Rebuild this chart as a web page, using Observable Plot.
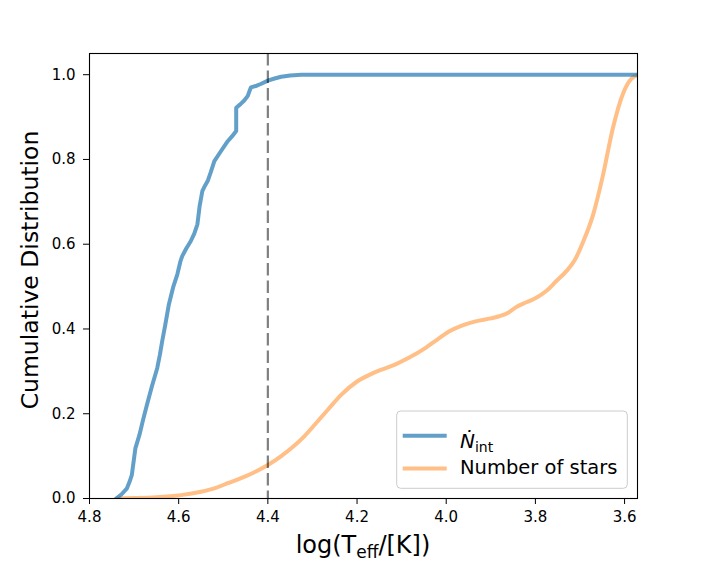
<!DOCTYPE html>
<html>
<head>
<meta charset="utf-8">
<script src="https://cdn.jsdelivr.net/npm/d3@7"></script>
<script src="https://cdn.jsdelivr.net/npm/@observablehq/plot@0.6"></script>
<style>
  html, body { margin: 0; padding: 0; background: #fff; }
</style>
</head>
<body>
<div id="chart"></div>
<script>
// Ṅ_int cumulative distribution vs log(Teff)
const nintT = [4.740, 4.728, 4.716, 4.710, 4.705, 4.697, 4.688, 4.680, 4.671, 4.660, 4.648, 4.642, 4.637, 4.630, 4.622, 4.612, 4.603, 4.596, 4.592, 4.583, 4.573, 4.565, 4.558, 4.553, 4.547, 4.541, 4.535, 4.528, 4.520, 4.505, 4.490, 4.480, 4.471, 4.471, 4.462, 4.453, 4.445, 4.441, 4.438, 4.425, 4.416, 4.400, 4.385, 4.370, 4.350, 4.325, 4.300, 3.560];
const nintCum = [0.000, 0.010, 0.024, 0.040, 0.056, 0.119, 0.150, 0.185, 0.222, 0.265, 0.308, 0.340, 0.371, 0.410, 0.458, 0.500, 0.529, 0.560, 0.572, 0.590, 0.607, 0.625, 0.647, 0.690, 0.725, 0.738, 0.749, 0.770, 0.796, 0.820, 0.843, 0.855, 0.867, 0.922, 0.930, 0.939, 0.950, 0.962, 0.970, 0.974, 0.978, 0.986, 0.991, 0.995, 0.998, 1.000, 1.000, 1.000];

// Number of stars cumulative distribution
const starsT = [4.740, 4.700, 4.650, 4.595, 4.550, 4.520, 4.490, 4.460, 4.430, 4.400, 4.370, 4.347, 4.320, 4.295, 4.265, 4.235, 4.200, 4.170, 4.145, 4.115, 4.084, 4.047, 4.020, 3.994, 3.965, 3.934, 3.900, 3.881, 3.860, 3.844, 3.820, 3.799, 3.775, 3.754, 3.730, 3.712, 3.694, 3.671, 3.649, 3.626, 3.604, 3.585, 3.567];
const starsCum = [0.000, 0.001, 0.003, 0.008, 0.016, 0.024, 0.036, 0.048, 0.062, 0.079, 0.100, 0.119, 0.145, 0.174, 0.210, 0.245, 0.276, 0.293, 0.304, 0.316, 0.332, 0.355, 0.375, 0.394, 0.408, 0.418, 0.425, 0.430, 0.439, 0.451, 0.463, 0.473, 0.490, 0.512, 0.537, 0.562, 0.603, 0.668, 0.760, 0.875, 0.954, 0.990, 1.000];

const xTicks = [4.8, 4.6, 4.4, 4.2, 4.0, 3.8, 3.6];
const yTicks = [0, 0.2, 0.4, 0.6, 0.8, 1.0];
const cutT = [4.4];

const nintData = nintT.map((t, i) => ({t, c: nintCum[i]}));
const starsData = starsT.map((t, i) => ({t, c: starsCum[i]}));

const plot = Plot.plot({
  width: 707,
  height: 571,
  marginLeft: 89,
  marginRight: 70,
  marginTop: 53,
  marginBottom: 73,
  style: {fontFamily: "DejaVu Sans", fontSize: "15px", background: "#fff", color: "#000"},
  x: {domain: [4.8, 3.571]},
  y: {domain: [0, 1.05]},
  marks: [
    Plot.line(starsData, {x: "t", y: "c", stroke: "#ff7f0e", strokeOpacity: 0.5, strokeWidth: 4, curve: "monotone-x", clip: true}),
    Plot.line(nintData, {x: "t", y: "c", stroke: "#1f77b4", strokeOpacity: 0.7, strokeWidth: 4, clip: true}),
    Plot.ruleX(cutT, {stroke: "#000", strokeOpacity: 0.5, strokeWidth: 2.2, strokeDasharray: "12.5,5"}),
    Plot.frame({stroke: "#000", strokeWidth: 1.1}),
    Plot.axisX({ticks: xTicks, tickFormat: d3.format(".1f"), tickSize: 6, tickPadding: 7, label: null, fontSize: 15}),
    Plot.axisY({ticks: yTicks, tickFormat: d3.format(".1f"), tickSize: 6, tickPadding: 8, label: null, fontSize: 15})
  ]
});

document.getElementById("chart").appendChild(plot);
const svg = d3.select(plot);

// x-axis label with subscript
const xl = svg.append("text")
  .attr("x", 363).attr("y", 553)
  .attr("text-anchor", "middle")
  .attr("font-family", "DejaVu Sans")
  .attr("font-size", 24)
  .attr("fill", "#000");
xl.append("tspan").text("log(T");
xl.append("tspan").attr("font-size", 17).attr("dy", 5).text("eff");
xl.append("tspan").attr("dy", -5).text("/[K])");

// y-axis label
svg.append("text")
  .attr("transform", "translate(38,270) rotate(-90)")
  .attr("text-anchor", "middle")
  .attr("font-family", "DejaVu Sans")
  .attr("font-size", 23.5)
  .attr("fill", "#000")
  .text("Cumulative Distribution");

// legend
const lg = svg.append("g").attr("font-family", "DejaVu Sans").attr("text-anchor", "start");
lg.append("rect")
  .attr("x", 396.7).attr("y", 411).attr("width", 230.6).attr("height", 77.3)
  .attr("rx", 4).attr("fill", "#fff").attr("fill-opacity", 0.8)
  .attr("stroke", "#cccccc").attr("stroke-width", 1);
lg.append("line")
  .attr("x1", 402.7).attr("x2", 446.7).attr("y1", 435.8).attr("y2", 435.8)
  .attr("stroke", "#1f77b4").attr("stroke-opacity", 0.7).attr("stroke-width", 4);
lg.append("line")
  .attr("x1", 402.7).attr("x2", 446.7).attr("y1", 468.5).attr("y2", 468.5)
  .attr("stroke", "#ff7f0e").attr("stroke-opacity", 0.5).attr("stroke-width", 4);
const t1 = lg.append("text").attr("x", 460).attr("y", 448).attr("font-size", 20).attr("fill", "#000").attr("text-anchor", "start");
t1.append("tspan").attr("font-style", "italic").text("Ṅ");
t1.append("tspan").attr("font-size", 14).attr("dy", 4).text("int");
lg.append("text").attr("x", 460).attr("y", 474).attr("font-size", 19.5).attr("fill", "#000").attr("text-anchor", "start")
  .text("Number of stars");
</script>
</body>
</html>
